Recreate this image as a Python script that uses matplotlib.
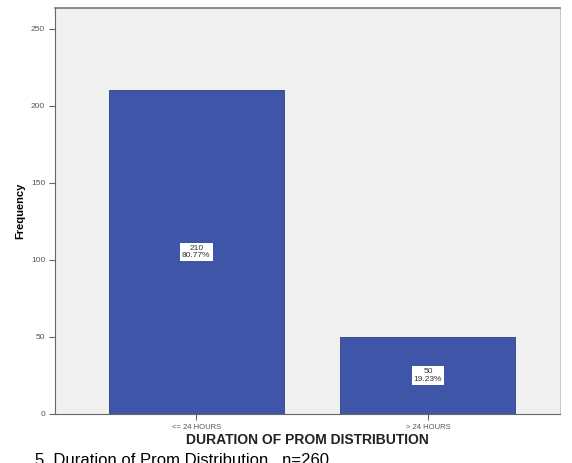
import matplotlib.pyplot as plt

categories = ['<= 24 HOURS', '> 24 HOURS']
counts = [210, 50]
percents = ['80.77%', '19.23%']
yticks = [0, 50, 100, 150, 200, 250]

plt.rcParams['font.family'] = ['Liberation Sans', 'DejaVu Sans']

fig = plt.figure(figsize=(5.72, 4.63), dpi=100)
ax = fig.add_axes([0.096, 0.106, 0.883, 0.877])
ax.set_facecolor('#f0f0f0')

x = list(range(len(categories)))
ax.bar(x, counts, width=0.755, color='#3f55a8', edgecolor='#2e3f80', linewidth=0.6)

for xi, c, p in zip(x, counts, percents):
    ax.text(xi, c / 2, f'{c}\n{p}', ha='center', va='center', fontsize=6,
            color='#333333', linespacing=1.05,
            bbox=dict(boxstyle='square,pad=0.25', facecolor='white', edgecolor='none'))

ax.set_xlim(-0.61, 1.57)
ax.set_ylim(0, 263.6)
ax.set_xticks(x)
ax.set_xticklabels(categories, fontsize=5.5, color='#555555')
ax.set_yticks(yticks)
ax.set_yticklabels([str(t) for t in yticks], fontsize=6, color='#555555')
ax.tick_params(length=4, width=0.8, color='#666666', pad=3)

for s in ax.spines.values():
    s.set_color('#c8c8c8')
    s.set_linewidth(0.8)
ax.spines['left'].set_color('#666666')
ax.spines['bottom'].set_color('#666666')
ax.spines['top'].set_color('#777777')
ax.spines['top'].set_linewidth(1.2)

ax.set_ylabel('Frequency', fontsize=8, fontweight='bold', labelpad=4)
ax.set_xlabel('DURATION OF PROM DISTRIBUTION', fontsize=10, fontweight='bold',
              color='#222222', labelpad=2)

# caption sits partly below the bottom edge, like the cropped source
fig.text(0.062, -0.004, '5. Duration of Prom Distribution   n=260', fontsize=12,
         va='baseline', ha='left', color='black')

fig.savefig('out.png')
